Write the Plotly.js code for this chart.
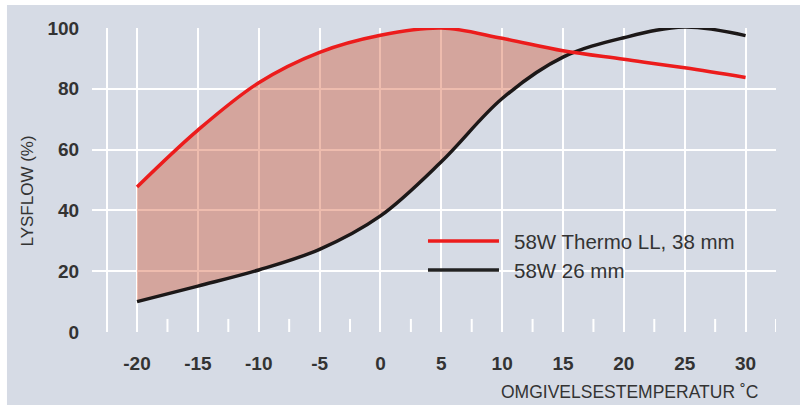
<!DOCTYPE html>
<html>
<head>
<meta charset="utf-8">
<script src="https://cdn.plot.ly/plotly-3.0.1.min.js"></script>
<style>html,body{margin:0;padding:0;background:#fff;}#chart{width:800px;height:405px;}</style>
</head>
<body>
<div id="chart"></div>
<script>
// Data
const temps = [-20, -15, -10, -5, 0, 5, 10, 15, 20, 25, 30];
const thermoLL38 = [47.7, 66.4, 82.0, 92.0, 97.6, 100, 96.6, 92.5, 89.7, 86.9, 83.7];
const std26 = [10, 15.1, 20.4, 27.2, 38.2, 56.0, 76.8, 90.4, 96.8, 100.3, 97.5];
const seriesNames = ['58W Thermo LL, 38 mm', '58W 26 mm'];
const xTickVals = [-22.5, -20, -15, -10, -5, 0, 5, 10, 15, 20, 25, 30];
const xTickText = ['', '-20', '-15', '-10', '-5', '0', '5', '10', '15', '20', '25', '30'];
const xMinorTicks = [-17.5, -12.5, -7.5, -2.5, 2.5, 7.5, 12.5, 17.5, 22.5, 27.5, 32.5];
const yTickVals = [0, 20, 40, 60, 80, 100];
const xTitle = 'OMGIVELSESTEMPERATUR ˚C';
const yTitle = 'LYSFLOW (%)';

// Fill region: where red is above black, up to the crossing point
const fillX = [], fillUp = [], fillLo = [];
for (let i = 0; i < temps.length; i++) {
  const d = thermoLL38[i] - std26[i];
  if (d >= 0) {
    fillX.push(temps[i]); fillUp.push(thermoLL38[i]); fillLo.push(std26[i]);
  } else {
    const dp = thermoLL38[i-1] - std26[i-1];
    const t = dp / (dp - d) * 0.85;
    const xc = temps[i-1] + t * (temps[i] - temps[i-1]);
    const yc = thermoLL38[i-1] + t * (thermoLL38[i] - thermoLL38[i-1]);
    fillX.push(xc); fillUp.push(yc); fillLo.push(yc);
    break;
  }
}

const RED = '#ec1c1c', BLACK = '#1c1818', TXT = '#333333';
const FONT = 'Liberation Sans, Arial, Helvetica, sans-serif';

const traces = [
  {x: fillX, y: fillLo, mode: 'lines', line: {width: 0, shape: 'spline'}, hoverinfo: 'skip', showlegend: false},
  {x: fillX, y: fillUp, mode: 'lines', line: {width: 0, shape: 'spline'}, fill: 'tonexty',
   fillcolor: 'rgba(208,70,30,0.36)', hoverinfo: 'skip', showlegend: false},
  {x: temps, y: std26, mode: 'lines', name: seriesNames[1], line: {color: BLACK, width: 3.5, shape: 'spline'}, cliponaxis: false, showlegend: false},
  {x: temps, y: thermoLL38, mode: 'lines', name: seriesNames[0], line: {color: RED, width: 3.5, shape: 'spline'}, cliponaxis: false, showlegend: false}
];

const shapes = [
  // panel background
  {type: 'rect', xref: 'paper', yref: 'paper', x0: -0.1243, x1: 1.05, y0: -0.25, y1: 1.0757,
   fillcolor: '#d6dbe5', line: {width: 0}, layer: 'below'}
];
xMinorTicks.forEach(v => shapes.push({type: 'line', xref: 'x', yref: 'y', x0: v, x1: v, y0: 0, y1: 4.3,
  line: {color: '#ffffff', width: 2}, layer: 'below'}));
// legend samples
shapes.push({type: 'line', xref: 'paper', yref: 'paper', x0: 0.4912, x1: 0.595, y0: 0.2993, y1: 0.2993, line: {color: RED, width: 3.5}});
shapes.push({type: 'line', xref: 'paper', yref: 'paper', x0: 0.4912, x1: 0.595, y0: 0.2039, y1: 0.2039, line: {color: '#222222', width: 3.5}});

const annotations = [
  {xref: 'paper', yref: 'paper', x: 0.614, y: 0.2993, xanchor: 'left', yanchor: 'middle', showarrow: false,
   text: seriesNames[0], font: {family: FONT, size: 20.5, color: TXT}},
  {xref: 'paper', yref: 'paper', x: 0.614, y: 0.2039, xanchor: 'left', yanchor: 'middle', showarrow: false,
   text: seriesNames[1], font: {family: FONT, size: 20.5, color: TXT}},
  {xref: 'paper', yref: 'paper', x: (760 - 92) / 684, y: (332 - 392) / 304, xanchor: 'right', yanchor: 'middle', showarrow: false,
   text: xTitle, font: {family: FONT, size: 17.5, color: TXT}},
  {xref: 'paper', yref: 'paper', x: (28 - 92) / 684, y: 0.462, xanchor: 'center', yanchor: 'middle', showarrow: false,
   textangle: -90, text: yTitle, font: {family: FONT, size: 17, color: TXT}}
];

const layout = {
  width: 800, height: 405,
  margin: {l: 92, r: 24, t: 28, b: 73, pad: 0},
  paper_bgcolor: '#ffffff', plot_bgcolor: 'rgba(0,0,0,0)',
  showlegend: false,
  xaxis: {range: [-23.7, 32.5], tickmode: 'array', tickvals: xTickVals, ticktext: xTickText,
    showgrid: true, gridcolor: '#ffffff', gridwidth: 2, zeroline: false, showline: false,
    ticks: 'outside', ticklen: 14, tickcolor: 'rgba(0,0,0,0)',
    tickfont: {family: FONT, size: 19, color: TXT, weight: 'bold'}, fixedrange: true},
  yaxis: {range: [0, 100], tickmode: 'array', tickvals: yTickVals,
    showgrid: true, gridcolor: '#ffffff', gridwidth: 2, zeroline: false, showline: false,
    ticks: 'outside', ticklen: 8, tickcolor: 'rgba(0,0,0,0)',
    tickfont: {family: FONT, size: 19, color: TXT, weight: 'bold'}, fixedrange: true},
  shapes: shapes,
  annotations: annotations
};

Plotly.newPlot('chart', traces, layout, {displayModeBar: false, staticPlot: true});
</script>
</body>
</html>
